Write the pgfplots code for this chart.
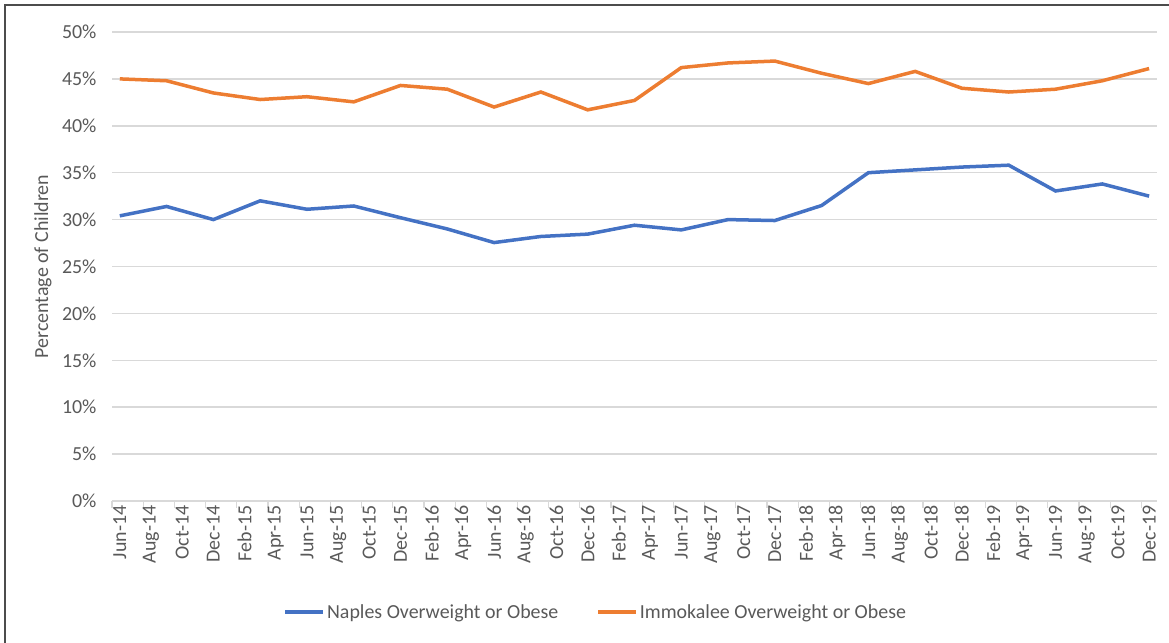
\documentclass[border=0pt]{standalone}
\usepackage{fontspec}
\setmainfont{Carlito}
\usepackage{pgfplots}
\pgfplotsset{compat=1.18}
\definecolor{nblue}{HTML}{4472C4}
\definecolor{iorange}{HTML}{ED7D31}
\definecolor{txtgray}{HTML}{595959}
\definecolor{gridgray}{HTML}{D9D9D9}
\pgfplotstableread{
x naples immokalee
0.5 30.4 45.0
3.5 31.4 44.8
6.5 30.0 43.5
9.5 32.0 42.8
12.5 31.1 43.1
15.5 31.45 42.55
18.5 30.2 44.3
21.5 29.0 43.9
24.5 27.55 42.0
27.5 28.2 43.6
30.5 28.45 41.7
33.5 29.4 42.7
36.5 28.9 46.2
39.5 30.0 46.7
42.5 29.9 46.9
45.5 31.5 45.6
48.5 35.0 44.5
51.5 35.3 45.8
54.5 35.6 44.0
57.5 35.8 43.6
60.5 33.05 43.9
63.5 33.8 44.8
66.5 32.5 46.1
}\datatable
\begin{document}
\begin{tikzpicture}[x=1bp,y=1bp]
\path[use as bounding box] (0,0) rectangle (1169,643);
\draw[line width=2bp, color=black!70] (5,0) -- (5,638) -- (1169,638);
\begin{axis}[
  at={(112bp,142bp)}, anchor=south west,
  scale only axis, width=1045bp, height=469bp,
  xmin=0, xmax=67, ymin=0, ymax=50,
  axis line style={draw=none},
  ytick={0,5,...,50},
  yticklabel={\pgfmathprintnumber{\tick}\%},
  ymajorgrids, grid style={gridgray, line width=1.5bp},
  major tick length=0,
  xtick pos=bottom, ytick pos=left,
  xtick={0.5,2.5,...,66.5},
  xticklabels={Jun-14,Aug-14,Oct-14,Dec-14,Feb-15,Apr-15,Jun-15,Aug-15,Oct-15,Dec-15,Feb-16,Apr-16,Jun-16,Aug-16,Oct-16,Dec-16,Feb-17,Apr-17,Jun-17,Aug-17,Oct-17,Dec-17,Feb-18,Apr-18,Jun-18,Aug-18,Oct-18,Dec-18,Feb-19,Apr-19,Jun-19,Aug-19,Oct-19,Dec-19},
  minor xtick={0,2,...,66},
  minor tick length=7bp, tick align=outside,
  minor tick style={gridgray, line width=1.2bp},
  tick label style={color=txtgray, font=\fontsize{20}{24}\selectfont},
  /pgf/number format/assume math mode=true,
  xticklabel style={rotate=90, anchor=east, xshift=-1bp},
  yticklabel style={xshift=-12bp},
  ylabel={Percentage of Children},
  ylabel style={at={(axis description cs:-0.066,0.5)}, anchor=center, color=txtgray, font=\fontsize{20}{24}\selectfont},
  legend style={at={(axis description cs:0.463,-0.237)}, anchor=center, draw=none, fill=none,
    font=\fontsize{20}{24}\selectfont, text=txtgray, legend columns=2,
    /tikz/every even column/.append style={column sep=36bp}},
  legend image code/.code={\draw[#1, line width=3.5bp] (0,0) -- (38bp,0);},
]
\addplot[nblue, line width=3.5bp] table[x=x, y=naples] {\datatable};
\addlegendentry{Naples Overweight or Obese}
\addplot[iorange, line width=3.5bp] table[x=x, y=immokalee] {\datatable};
\addlegendentry{Immokalee Overweight or Obese}
\end{axis}
\end{tikzpicture}
\end{document}
